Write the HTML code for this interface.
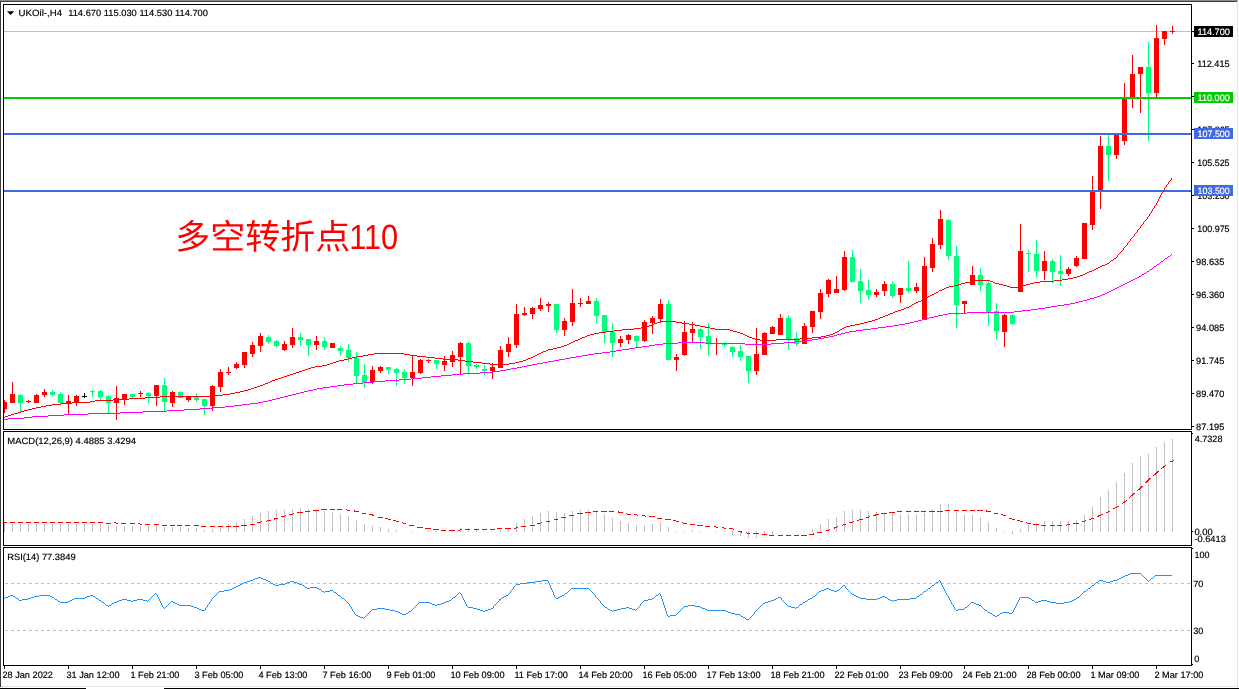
<!DOCTYPE html>
<html><head><meta charset="utf-8"><title>UKOil H4</title>
<style>html,body{margin:0;padding:0;background:#fff;width:1239px;height:689px;overflow:hidden}svg{display:block;will-change:transform}text{white-space:pre;text-rendering:geometricPrecision}</style>
</head><body>
<svg width="1239" height="689" viewBox="0 0 1239 689" font-family="Liberation Sans, sans-serif">
<rect width="1239" height="689" fill="#fff"/>
<g shape-rendering="crispEdges">
<rect x="0" y="0" width="1238" height="1" fill="#8c8c8c"/>
<rect x="0" y="1" width="1237" height="1" fill="#404040"/>
<rect x="0" y="1" width="1" height="686" fill="#3c3c3c"/>
<rect x="1237" y="2" width="1" height="685" fill="#e4e4e4"/>
<rect x="1" y="686" width="1237" height="1" fill="#e4e4e4"/>
<rect x="0" y="688" width="86" height="1" fill="#000"/>
<rect x="164" y="688" width="1075" height="1" fill="#000"/>
<rect x="3" y="4" width="1189" height="1" fill="#000"/>
<rect x="3" y="4" width="1" height="426" fill="#000"/>
<rect x="3" y="429" width="1189" height="1" fill="#000"/>
<rect x="1191" y="4" width="1" height="426" fill="#000"/>
<rect x="3" y="431" width="1189" height="1" fill="#000"/>
<rect x="3" y="431" width="1" height="115" fill="#000"/>
<rect x="3" y="545" width="1189" height="1" fill="#000"/>
<rect x="1191" y="431" width="1" height="115" fill="#000"/>
<rect x="3" y="547" width="1189" height="1" fill="#000"/>
<rect x="3" y="547" width="1" height="119" fill="#000"/>
<rect x="3" y="665" width="1189" height="1" fill="#000"/>
<rect x="1191" y="547" width="1" height="119" fill="#000"/>
<rect x="4" y="31" width="1187" height="1" fill="#c0c0c0"/>
<rect x="4" y="666" width="1" height="3" fill="#000"/>
<rect x="68" y="666" width="1" height="3" fill="#000"/>
<rect x="132" y="666" width="1" height="3" fill="#000"/>
<rect x="196" y="666" width="1" height="3" fill="#000"/>
<rect x="260" y="666" width="1" height="3" fill="#000"/>
<rect x="324" y="666" width="1" height="3" fill="#000"/>
<rect x="388" y="666" width="1" height="3" fill="#000"/>
<rect x="452" y="666" width="1" height="3" fill="#000"/>
<rect x="516" y="666" width="1" height="3" fill="#000"/>
<rect x="580" y="666" width="1" height="3" fill="#000"/>
<rect x="644" y="666" width="1" height="3" fill="#000"/>
<rect x="708" y="666" width="1" height="3" fill="#000"/>
<rect x="772" y="666" width="1" height="3" fill="#000"/>
<rect x="836" y="666" width="1" height="3" fill="#000"/>
<rect x="900" y="666" width="1" height="3" fill="#000"/>
<rect x="964" y="666" width="1" height="3" fill="#000"/>
<rect x="1028" y="666" width="1" height="3" fill="#000"/>
<rect x="1092" y="666" width="1" height="3" fill="#000"/>
<rect x="1156" y="666" width="1" height="3" fill="#000"/>
<rect x="1192" y="63" width="2" height="1" fill="#000"/>
<rect x="1192" y="96" width="2" height="1" fill="#000"/>
<rect x="1192" y="129" width="2" height="1" fill="#000"/>
<rect x="1192" y="162" width="2" height="1" fill="#000"/>
<rect x="1192" y="195" width="2" height="1" fill="#000"/>
<rect x="1192" y="228" width="2" height="1" fill="#000"/>
<rect x="1192" y="261" width="2" height="1" fill="#000"/>
<rect x="1192" y="294" width="2" height="1" fill="#000"/>
<rect x="1192" y="327" width="2" height="1" fill="#000"/>
<rect x="1192" y="360" width="2" height="1" fill="#000"/>
<rect x="1192" y="393" width="2" height="1" fill="#000"/>
<rect x="1192" y="426" width="2" height="1" fill="#000"/>
<rect x="1192" y="433" width="1" height="1" fill="#000"/>
<rect x="1192" y="531" width="1" height="1" fill="#000"/>
<rect x="1192" y="548" width="1" height="1" fill="#000"/>
<rect x="1192" y="664" width="1" height="1" fill="#000"/>
</g>
<g shape-rendering="crispEdges" stroke="#c0c0c0" stroke-width="1" stroke-dasharray="3 3">
<line x1="5" y1="583.5" x2="1191" y2="583.5"/><line x1="5" y1="630.5" x2="1191" y2="630.5"/>
</g>
<g shape-rendering="crispEdges">
<rect x="4" y="400" width="1" height="13" fill="#ff0000"/>
<rect x="4" y="402" width="3" height="7" fill="#ff0000"/>
<rect x="12" y="382" width="1" height="21" fill="#ff0000"/>
<rect x="10" y="394" width="5" height="9" fill="#ff0000"/>
<rect x="20" y="394" width="1" height="18" fill="#00ff7f"/>
<rect x="18" y="395" width="5" height="8" fill="#00ff7f"/>
<rect x="28" y="400" width="1" height="3" fill="#ff0000"/>
<rect x="26" y="401" width="5" height="1" fill="#ff0000"/>
<rect x="36" y="394" width="1" height="9" fill="#ff0000"/>
<rect x="34" y="395" width="5" height="8" fill="#ff0000"/>
<rect x="44" y="389" width="1" height="8" fill="#ff0000"/>
<rect x="42" y="392" width="5" height="3" fill="#ff0000"/>
<rect x="52" y="390" width="1" height="6" fill="#00ff7f"/>
<rect x="50" y="392" width="5" height="3" fill="#00ff7f"/>
<rect x="60" y="392" width="1" height="12" fill="#00ff7f"/>
<rect x="58" y="394" width="5" height="9" fill="#00ff7f"/>
<rect x="68" y="395" width="1" height="19" fill="#ff0000"/>
<rect x="66" y="401" width="5" height="3" fill="#ff0000"/>
<rect x="76" y="395" width="1" height="11" fill="#ff0000"/>
<rect x="74" y="396" width="5" height="7" fill="#ff0000"/>
<rect x="84" y="393" width="1" height="5" fill="#000000"/>
<rect x="82" y="396" width="5" height="1" fill="#000000"/>
<rect x="92" y="390" width="1" height="7" fill="#00ff7f"/>
<rect x="90" y="391" width="5" height="1" fill="#00ff7f"/>
<rect x="100" y="390" width="1" height="10" fill="#00ff7f"/>
<rect x="98" y="391" width="5" height="6" fill="#00ff7f"/>
<rect x="108" y="395" width="1" height="18" fill="#00ff7f"/>
<rect x="106" y="396" width="5" height="7" fill="#00ff7f"/>
<rect x="116" y="386" width="1" height="34" fill="#ff0000"/>
<rect x="114" y="398" width="5" height="5" fill="#ff0000"/>
<rect x="124" y="394" width="1" height="11" fill="#ff0000"/>
<rect x="122" y="394" width="5" height="5" fill="#ff0000"/>
<rect x="132" y="394" width="1" height="5" fill="#00ff7f"/>
<rect x="130" y="394" width="5" height="3" fill="#00ff7f"/>
<rect x="140" y="391" width="1" height="6" fill="#ff0000"/>
<rect x="138" y="393" width="5" height="1" fill="#ff0000"/>
<rect x="148" y="392" width="1" height="11" fill="#00ff7f"/>
<rect x="146" y="393" width="5" height="3" fill="#00ff7f"/>
<rect x="156" y="385" width="1" height="21" fill="#ff0000"/>
<rect x="154" y="385" width="5" height="11" fill="#ff0000"/>
<rect x="164" y="378" width="1" height="33" fill="#00ff7f"/>
<rect x="162" y="385" width="5" height="17" fill="#00ff7f"/>
<rect x="172" y="391" width="1" height="16" fill="#ff0000"/>
<rect x="170" y="392" width="5" height="11" fill="#ff0000"/>
<rect x="180" y="391" width="1" height="7" fill="#00ff7f"/>
<rect x="178" y="392" width="5" height="6" fill="#00ff7f"/>
<rect x="188" y="397" width="1" height="5" fill="#ff0000"/>
<rect x="186" y="397" width="5" height="3" fill="#ff0000"/>
<rect x="196" y="393" width="1" height="9" fill="#00ff7f"/>
<rect x="194" y="397" width="5" height="3" fill="#00ff7f"/>
<rect x="204" y="399" width="1" height="16" fill="#00ff7f"/>
<rect x="202" y="399" width="5" height="7" fill="#00ff7f"/>
<rect x="212" y="385" width="1" height="26" fill="#ff0000"/>
<rect x="210" y="386" width="5" height="20" fill="#ff0000"/>
<rect x="220" y="369" width="1" height="23" fill="#ff0000"/>
<rect x="218" y="372" width="5" height="15" fill="#ff0000"/>
<rect x="228" y="367" width="1" height="8" fill="#ff0000"/>
<rect x="226" y="372" width="5" height="1" fill="#ff0000"/>
<rect x="236" y="362" width="1" height="7" fill="#ff0000"/>
<rect x="234" y="364" width="5" height="4" fill="#ff0000"/>
<rect x="244" y="352" width="1" height="16" fill="#ff0000"/>
<rect x="242" y="352" width="5" height="13" fill="#ff0000"/>
<rect x="252" y="342" width="1" height="15" fill="#ff0000"/>
<rect x="250" y="345" width="5" height="9" fill="#ff0000"/>
<rect x="260" y="333" width="1" height="19" fill="#ff0000"/>
<rect x="258" y="336" width="5" height="10" fill="#ff0000"/>
<rect x="268" y="335" width="1" height="9" fill="#00ff7f"/>
<rect x="266" y="337" width="5" height="5" fill="#00ff7f"/>
<rect x="276" y="340" width="1" height="7" fill="#00ff7f"/>
<rect x="274" y="341" width="5" height="5" fill="#00ff7f"/>
<rect x="284" y="341" width="1" height="10" fill="#ff0000"/>
<rect x="282" y="344" width="5" height="6" fill="#ff0000"/>
<rect x="292" y="328" width="1" height="20" fill="#ff0000"/>
<rect x="290" y="337" width="5" height="8" fill="#ff0000"/>
<rect x="300" y="333" width="1" height="13" fill="#00ff7f"/>
<rect x="298" y="337" width="5" height="3" fill="#00ff7f"/>
<rect x="308" y="339" width="1" height="17" fill="#00ff7f"/>
<rect x="306" y="339" width="5" height="6" fill="#00ff7f"/>
<rect x="316" y="336" width="1" height="14" fill="#ff0000"/>
<rect x="314" y="341" width="5" height="4" fill="#ff0000"/>
<rect x="324" y="337" width="1" height="13" fill="#00ff7f"/>
<rect x="322" y="341" width="5" height="6" fill="#00ff7f"/>
<rect x="332" y="343" width="1" height="5" fill="#ff0000"/>
<rect x="330" y="343" width="5" height="5" fill="#ff0000"/>
<rect x="340" y="346" width="1" height="10" fill="#00ff7f"/>
<rect x="338" y="348" width="5" height="3" fill="#00ff7f"/>
<rect x="348" y="344" width="1" height="18" fill="#00ff7f"/>
<rect x="346" y="350" width="5" height="8" fill="#00ff7f"/>
<rect x="356" y="352" width="1" height="31" fill="#00ff7f"/>
<rect x="354" y="358" width="5" height="18" fill="#00ff7f"/>
<rect x="364" y="364" width="1" height="24" fill="#00ff7f"/>
<rect x="362" y="375" width="5" height="8" fill="#00ff7f"/>
<rect x="372" y="366" width="1" height="18" fill="#ff0000"/>
<rect x="370" y="370" width="5" height="12" fill="#ff0000"/>
<rect x="380" y="366" width="1" height="7" fill="#ff0000"/>
<rect x="378" y="367" width="5" height="4" fill="#ff0000"/>
<rect x="388" y="367" width="1" height="7" fill="#00ff7f"/>
<rect x="386" y="367" width="5" height="3" fill="#00ff7f"/>
<rect x="396" y="368" width="1" height="18" fill="#00ff7f"/>
<rect x="394" y="369" width="5" height="4" fill="#00ff7f"/>
<rect x="404" y="369" width="1" height="15" fill="#00ff7f"/>
<rect x="402" y="372" width="5" height="6" fill="#00ff7f"/>
<rect x="412" y="355" width="1" height="31" fill="#ff0000"/>
<rect x="410" y="372" width="5" height="6" fill="#ff0000"/>
<rect x="420" y="359" width="1" height="15" fill="#ff0000"/>
<rect x="418" y="360" width="5" height="13" fill="#ff0000"/>
<rect x="428" y="359" width="1" height="4" fill="#ff0000"/>
<rect x="426" y="360" width="5" height="1" fill="#ff0000"/>
<rect x="436" y="360" width="1" height="9" fill="#00ff7f"/>
<rect x="434" y="360" width="5" height="4" fill="#00ff7f"/>
<rect x="444" y="356" width="1" height="15" fill="#ff0000"/>
<rect x="442" y="361" width="5" height="4" fill="#ff0000"/>
<rect x="452" y="351" width="1" height="16" fill="#ff0000"/>
<rect x="450" y="355" width="5" height="7" fill="#ff0000"/>
<rect x="460" y="342" width="1" height="32" fill="#ff0000"/>
<rect x="458" y="343" width="5" height="14" fill="#ff0000"/>
<rect x="468" y="342" width="1" height="31" fill="#00ff7f"/>
<rect x="466" y="343" width="5" height="23" fill="#00ff7f"/>
<rect x="476" y="364" width="1" height="5" fill="#00ff7f"/>
<rect x="474" y="365" width="5" height="2" fill="#00ff7f"/>
<rect x="484" y="365" width="1" height="10" fill="#00ff7f"/>
<rect x="482" y="369" width="5" height="2" fill="#00ff7f"/>
<rect x="492" y="363" width="1" height="16" fill="#ff0000"/>
<rect x="490" y="367" width="5" height="4" fill="#ff0000"/>
<rect x="500" y="346" width="1" height="22" fill="#ff0000"/>
<rect x="498" y="350" width="5" height="18" fill="#ff0000"/>
<rect x="508" y="337" width="1" height="20" fill="#ff0000"/>
<rect x="506" y="344" width="5" height="8" fill="#ff0000"/>
<rect x="516" y="304" width="1" height="44" fill="#ff0000"/>
<rect x="514" y="314" width="5" height="31" fill="#ff0000"/>
<rect x="524" y="307" width="1" height="9" fill="#ff0000"/>
<rect x="522" y="313" width="5" height="2" fill="#ff0000"/>
<rect x="532" y="307" width="1" height="12" fill="#ff0000"/>
<rect x="530" y="308" width="5" height="6" fill="#ff0000"/>
<rect x="540" y="298" width="1" height="13" fill="#ff0000"/>
<rect x="538" y="305" width="5" height="4" fill="#ff0000"/>
<rect x="548" y="302" width="1" height="10" fill="#ff0000"/>
<rect x="546" y="304" width="5" height="2" fill="#ff0000"/>
<rect x="556" y="304" width="1" height="29" fill="#00ff7f"/>
<rect x="554" y="304" width="5" height="26" fill="#00ff7f"/>
<rect x="564" y="318" width="1" height="18" fill="#ff0000"/>
<rect x="562" y="321" width="5" height="9" fill="#ff0000"/>
<rect x="572" y="289" width="1" height="37" fill="#ff0000"/>
<rect x="570" y="303" width="5" height="19" fill="#ff0000"/>
<rect x="580" y="298" width="1" height="9" fill="#ff0000"/>
<rect x="578" y="303" width="5" height="1" fill="#ff0000"/>
<rect x="588" y="296" width="1" height="8" fill="#ff0000"/>
<rect x="586" y="301" width="5" height="3" fill="#ff0000"/>
<rect x="596" y="298" width="1" height="25" fill="#00ff7f"/>
<rect x="594" y="301" width="5" height="15" fill="#00ff7f"/>
<rect x="604" y="315" width="1" height="28" fill="#00ff7f"/>
<rect x="602" y="315" width="5" height="17" fill="#00ff7f"/>
<rect x="612" y="323" width="1" height="34" fill="#00ff7f"/>
<rect x="610" y="332" width="5" height="11" fill="#00ff7f"/>
<rect x="620" y="336" width="1" height="11" fill="#ff0000"/>
<rect x="618" y="339" width="5" height="4" fill="#ff0000"/>
<rect x="628" y="334" width="1" height="10" fill="#ff0000"/>
<rect x="626" y="335" width="5" height="5" fill="#ff0000"/>
<rect x="636" y="335" width="1" height="12" fill="#00ff7f"/>
<rect x="634" y="336" width="5" height="5" fill="#00ff7f"/>
<rect x="644" y="320" width="1" height="22" fill="#ff0000"/>
<rect x="642" y="322" width="5" height="19" fill="#ff0000"/>
<rect x="652" y="316" width="1" height="18" fill="#ff0000"/>
<rect x="650" y="318" width="5" height="5" fill="#ff0000"/>
<rect x="660" y="299" width="1" height="23" fill="#ff0000"/>
<rect x="658" y="304" width="5" height="15" fill="#ff0000"/>
<rect x="668" y="300" width="1" height="60" fill="#00ff7f"/>
<rect x="666" y="304" width="5" height="56" fill="#00ff7f"/>
<rect x="676" y="354" width="1" height="17" fill="#ff0000"/>
<rect x="674" y="357" width="5" height="3" fill="#ff0000"/>
<rect x="684" y="321" width="1" height="35" fill="#ff0000"/>
<rect x="682" y="332" width="5" height="23" fill="#ff0000"/>
<rect x="692" y="322" width="1" height="20" fill="#ff0000"/>
<rect x="690" y="329" width="5" height="4" fill="#ff0000"/>
<rect x="700" y="328" width="1" height="21" fill="#00ff7f"/>
<rect x="698" y="329" width="5" height="8" fill="#00ff7f"/>
<rect x="708" y="323" width="1" height="33" fill="#00ff7f"/>
<rect x="706" y="336" width="5" height="7" fill="#00ff7f"/>
<rect x="716" y="338" width="1" height="17" fill="#ff0000"/>
<rect x="714" y="343" width="5" height="1" fill="#ff0000"/>
<rect x="724" y="342" width="1" height="5" fill="#00ff7f"/>
<rect x="722" y="343" width="5" height="2" fill="#00ff7f"/>
<rect x="732" y="346" width="1" height="11" fill="#00ff7f"/>
<rect x="730" y="347" width="5" height="5" fill="#00ff7f"/>
<rect x="740" y="345" width="1" height="16" fill="#00ff7f"/>
<rect x="738" y="351" width="5" height="6" fill="#00ff7f"/>
<rect x="748" y="356" width="1" height="27" fill="#00ff7f"/>
<rect x="746" y="356" width="5" height="15" fill="#00ff7f"/>
<rect x="756" y="328" width="1" height="47" fill="#ff0000"/>
<rect x="754" y="354" width="5" height="17" fill="#ff0000"/>
<rect x="764" y="332" width="1" height="23" fill="#ff0000"/>
<rect x="762" y="333" width="5" height="22" fill="#ff0000"/>
<rect x="772" y="326" width="1" height="8" fill="#ff0000"/>
<rect x="770" y="327" width="5" height="7" fill="#ff0000"/>
<rect x="780" y="314" width="1" height="21" fill="#ff0000"/>
<rect x="778" y="318" width="5" height="17" fill="#ff0000"/>
<rect x="788" y="315" width="1" height="35" fill="#00ff7f"/>
<rect x="786" y="318" width="5" height="22" fill="#00ff7f"/>
<rect x="796" y="332" width="1" height="14" fill="#00ff7f"/>
<rect x="794" y="338" width="5" height="6" fill="#00ff7f"/>
<rect x="804" y="323" width="1" height="21" fill="#ff0000"/>
<rect x="802" y="326" width="5" height="18" fill="#ff0000"/>
<rect x="812" y="311" width="1" height="22" fill="#ff0000"/>
<rect x="810" y="311" width="5" height="16" fill="#ff0000"/>
<rect x="820" y="289" width="1" height="30" fill="#ff0000"/>
<rect x="818" y="293" width="5" height="19" fill="#ff0000"/>
<rect x="828" y="279" width="1" height="18" fill="#ff0000"/>
<rect x="826" y="280" width="5" height="14" fill="#ff0000"/>
<rect x="836" y="276" width="1" height="17" fill="#ff0000"/>
<rect x="834" y="289" width="5" height="4" fill="#ff0000"/>
<rect x="844" y="251" width="1" height="40" fill="#ff0000"/>
<rect x="842" y="257" width="5" height="33" fill="#ff0000"/>
<rect x="852" y="250" width="1" height="32" fill="#00ff7f"/>
<rect x="850" y="257" width="5" height="25" fill="#00ff7f"/>
<rect x="860" y="269" width="1" height="34" fill="#00ff7f"/>
<rect x="858" y="281" width="5" height="10" fill="#00ff7f"/>
<rect x="868" y="280" width="1" height="20" fill="#00ff7f"/>
<rect x="866" y="290" width="5" height="5" fill="#00ff7f"/>
<rect x="876" y="289" width="1" height="8" fill="#ff0000"/>
<rect x="874" y="292" width="5" height="3" fill="#ff0000"/>
<rect x="884" y="281" width="1" height="15" fill="#ff0000"/>
<rect x="882" y="284" width="5" height="7" fill="#ff0000"/>
<rect x="892" y="281" width="1" height="17" fill="#00ff7f"/>
<rect x="890" y="284" width="5" height="12" fill="#00ff7f"/>
<rect x="900" y="288" width="1" height="15" fill="#ff0000"/>
<rect x="898" y="288" width="5" height="7" fill="#ff0000"/>
<rect x="908" y="261" width="1" height="32" fill="#00ff7f"/>
<rect x="906" y="288" width="5" height="3" fill="#00ff7f"/>
<rect x="916" y="283" width="1" height="10" fill="#ff0000"/>
<rect x="914" y="287" width="5" height="4" fill="#ff0000"/>
<rect x="924" y="257" width="1" height="63" fill="#ff0000"/>
<rect x="922" y="266" width="5" height="54" fill="#ff0000"/>
<rect x="932" y="238" width="1" height="34" fill="#ff0000"/>
<rect x="930" y="244" width="5" height="24" fill="#ff0000"/>
<rect x="940" y="210" width="1" height="39" fill="#ff0000"/>
<rect x="938" y="219" width="5" height="26" fill="#ff0000"/>
<rect x="948" y="219" width="1" height="41" fill="#00ff7f"/>
<rect x="946" y="220" width="5" height="36" fill="#00ff7f"/>
<rect x="956" y="246" width="1" height="82" fill="#00ff7f"/>
<rect x="954" y="256" width="5" height="49" fill="#00ff7f"/>
<rect x="964" y="301" width="1" height="12" fill="#ff0000"/>
<rect x="962" y="301" width="5" height="3" fill="#ff0000"/>
<rect x="972" y="266" width="1" height="19" fill="#ff0000"/>
<rect x="970" y="275" width="5" height="10" fill="#ff0000"/>
<rect x="980" y="268" width="1" height="23" fill="#00ff7f"/>
<rect x="978" y="275" width="5" height="10" fill="#00ff7f"/>
<rect x="988" y="281" width="1" height="45" fill="#00ff7f"/>
<rect x="986" y="283" width="5" height="29" fill="#00ff7f"/>
<rect x="996" y="303" width="1" height="37" fill="#00ff7f"/>
<rect x="994" y="311" width="5" height="20" fill="#00ff7f"/>
<rect x="1004" y="314" width="1" height="33" fill="#ff0000"/>
<rect x="1002" y="315" width="5" height="17" fill="#ff0000"/>
<rect x="1012" y="314" width="1" height="11" fill="#00ff7f"/>
<rect x="1010" y="315" width="5" height="9" fill="#00ff7f"/>
<rect x="1020" y="224" width="1" height="68" fill="#ff0000"/>
<rect x="1018" y="251" width="5" height="41" fill="#ff0000"/>
<rect x="1028" y="250" width="1" height="22" fill="#00ff7f"/>
<rect x="1026" y="253" width="5" height="1" fill="#00ff7f"/>
<rect x="1036" y="240" width="1" height="37" fill="#00ff7f"/>
<rect x="1034" y="254" width="5" height="17" fill="#00ff7f"/>
<rect x="1044" y="251" width="1" height="29" fill="#ff0000"/>
<rect x="1042" y="261" width="5" height="10" fill="#ff0000"/>
<rect x="1052" y="259" width="1" height="24" fill="#00ff7f"/>
<rect x="1050" y="261" width="5" height="11" fill="#00ff7f"/>
<rect x="1060" y="255" width="1" height="31" fill="#00ff7f"/>
<rect x="1058" y="271" width="5" height="3" fill="#00ff7f"/>
<rect x="1068" y="267" width="1" height="9" fill="#ff0000"/>
<rect x="1066" y="269" width="5" height="5" fill="#ff0000"/>
<rect x="1076" y="256" width="1" height="11" fill="#ff0000"/>
<rect x="1074" y="258" width="5" height="8" fill="#ff0000"/>
<rect x="1084" y="223" width="1" height="36" fill="#ff0000"/>
<rect x="1082" y="223" width="5" height="36" fill="#ff0000"/>
<rect x="1092" y="176" width="1" height="54" fill="#ff0000"/>
<rect x="1090" y="191" width="5" height="34" fill="#ff0000"/>
<rect x="1100" y="136" width="1" height="73" fill="#ff0000"/>
<rect x="1098" y="146" width="5" height="45" fill="#ff0000"/>
<rect x="1108" y="134" width="1" height="47" fill="#00ff7f"/>
<rect x="1106" y="146" width="5" height="9" fill="#00ff7f"/>
<rect x="1116" y="134" width="1" height="25" fill="#ff0000"/>
<rect x="1114" y="134" width="5" height="21" fill="#ff0000"/>
<rect x="1124" y="83" width="1" height="62" fill="#ff0000"/>
<rect x="1122" y="98" width="5" height="43" fill="#ff0000"/>
<rect x="1132" y="55" width="1" height="53" fill="#ff0000"/>
<rect x="1130" y="74" width="5" height="24" fill="#ff0000"/>
<rect x="1140" y="67" width="1" height="46" fill="#ff0000"/>
<rect x="1138" y="67" width="5" height="7" fill="#ff0000"/>
<rect x="1148" y="42" width="1" height="99" fill="#00ff7f"/>
<rect x="1146" y="67" width="5" height="26" fill="#00ff7f"/>
<rect x="1156" y="25" width="1" height="72" fill="#ff0000"/>
<rect x="1154" y="38" width="5" height="55" fill="#ff0000"/>
<rect x="1164" y="31" width="1" height="14" fill="#ff0000"/>
<rect x="1162" y="31" width="5" height="8" fill="#ff0000"/>
<rect x="1172" y="26" width="1" height="8" fill="#ff0000"/>
<rect x="1170" y="31" width="5" height="1" fill="#ff0000"/>
</g>
<g shape-rendering="crispEdges">
<rect x="4" y="97" width="1187" height="2" fill="#00cc00"/>
<rect x="4" y="133" width="1187" height="2" fill="#4169e1"/>
<rect x="4" y="190" width="1187" height="2" fill="#4169e1"/>
</g>
<path d="M4 419.5h4M8 418.5h16M24 417.5h8M32 416.5h16M48 415.5h16M64 414.5h24M88 413.5h32M120 412.5h23M143 411.5h24M167 410.5h17M184 409.5h16M200 408.5h13M213 407.5h12M225 406.5h9M234 405.5h8M242 404.5h8M250 403.5h8M258 402.5h5M263 401.5h5M268 400.5h4M272 399.5h4M276 398.5h4M280 397.5h4M284 396.5h4M288 395.5h4M292 394.5h4M296 393.5h4M300 392.5h4M304 391.5h4M308 390.5h5M313 389.5h4M317 388.5h6M323 387.5h7M330 386.5h7M337 385.5h7M344 384.5h9M353 383.5h10M363 382.5h11M374 381.5h11M385 380.5h14M399 379.5h12M411 378.5h11M422 377.5h9M431 376.5h10M441 375.5h11M452 374.5h11M463 373.5h17M480 372.5h13M493 371.5h7M500 370.5h6M506 369.5h5M511 368.5h6M517 367.5h5M522 366.5h5M527 365.5h5M532 364.5h5M537 363.5h6M543 362.5h5M548 361.5h6M554 360.5h5M559 359.5h6M565 358.5h5M570 357.5h6M576 356.5h6M582 355.5h6M588 354.5h6M594 353.5h8M602 352.5h8M610 351.5h6M616 350.5h6M622 349.5h7M629 348.5h6M635 347.5h7M642 346.5h7M649 345.5h6M655 344.5h8M663 343.5h15M678 342.5h27M705 343.5h40M745 344.5h26M771 343.5h13M784 342.5h11M795 341.5h10M805 340.5h7M812 339.5h6M818 338.5h6M824 337.5h5M829 336.5h5M834 335.5h3M837 334.5h4M841 333.5h4M845 332.5h4M849 331.5h7M856 330.5h7M863 329.5h8M871 328.5h7M878 327.5h8M886 326.5h7M893 325.5h6M899 324.5h6M905 323.5h5M910 322.5h4M914 321.5h4M918 320.5h4M922 319.5h3M925 318.5h4M929 317.5h5M934 316.5h4M938 315.5h5M943 314.5h5M948 313.5h19M967 312.5h47M1014 311.5h8M1022 310.5h9M1031 309.5h7M1038 308.5h7M1045 307.5h6M1051 306.5h6M1057 305.5h7M1064 304.5h6M1070 303.5h5M1075 302.5h4M1079 301.5h4M1083 300.5h4M1087 299.5h3M1090 298.5h4M1094 297.5h3M1097 296.5h3M1100 295.5h2M1102 294.5h3M1105 293.5h2M1107 292.5h2M1109 291.5h2M1111 290.5h2M1113 289.5h2M1115 288.5h2M1117 287.5h2M1119 286.5h2M1121 285.5h2M1123 284.5h2M1125 283.5h2M1127 282.5h2M1129 281.5h2M1131 280.5h2M1133 279.5h2M1135 278.5h2M1137 277.5h2M1139 276.5h2M1141 275.5h1M1142 274.5h2M1144 273.5h2M1146 272.5h1M1147 271.5h2M1149 270.5h1M1150 269.5h2M1152 268.5h1M1153 267.5h1M1154 266.5h2M1156 265.5h1M1157 264.5h2M1159 263.5h1M1160 262.5h1M1161 261.5h2M1163 260.5h1M1164 259.5h1M1165 258.5h2M1167 257.5h1M1168 256.5h2M1170 255.5h1M1171 254.5h1" stroke="#ff00ff" stroke-width="1" fill="none" shape-rendering="crispEdges"/>
<path d="M4 417.5h1M5 416.5h3M8 415.5h3M11 414.5h3M14 413.5h4M18 412.5h3M21 411.5h3M24 410.5h4M28 409.5h4M32 408.5h4M36 407.5h5M41 406.5h5M46 405.5h6M52 404.5h9M61 403.5h11M72 402.5h18M90 401.5h5M95 400.5h18M113 399.5h16M129 398.5h16M145 397.5h15M160 396.5h54M214 395.5h9M223 394.5h7M230 393.5h5M235 392.5h5M240 391.5h4M244 390.5h4M248 389.5h3M251 388.5h3M254 387.5h3M257 386.5h3M260 385.5h3M263 384.5h2M265 383.5h3M268 382.5h2M270 381.5h2M272 380.5h3M275 379.5h3M278 378.5h3M281 377.5h3M284 376.5h3M287 375.5h3M290 374.5h3M293 373.5h3M296 372.5h3M299 371.5h3M302 370.5h3M305 369.5h3M308 368.5h3M311 367.5h4M315 366.5h7M322 365.5h5M327 364.5h3M330 363.5h3M333 362.5h3M336 361.5h3M339 360.5h5M344 359.5h4M348 358.5h4M352 357.5h5M357 356.5h6M363 355.5h5M368 354.5h6M374 353.5h30M404 354.5h6M410 355.5h7M417 356.5h9M426 357.5h9M435 358.5h8M443 359.5h15M458 360.5h7M465 361.5h8M473 362.5h9M482 363.5h8M490 364.5h19M509 363.5h6M515 362.5h4M519 361.5h4M523 360.5h3M526 359.5h2M528 358.5h3M531 357.5h2M533 356.5h2M535 355.5h2M537 354.5h2M539 353.5h2M541 352.5h2M543 351.5h3M546 350.5h2M548 349.5h5M553 348.5h4M557 347.5h4M561 346.5h3M564 345.5h3M567 344.5h2M569 343.5h2M571 342.5h2M573 341.5h2M575 340.5h3M578 339.5h2M580 338.5h2M582 337.5h3M585 336.5h2M587 335.5h3M590 334.5h4M594 333.5h5M599 332.5h7M606 331.5h8M614 330.5h8M622 329.5h12M634 328.5h7M641 327.5h4M645 326.5h4M649 325.5h3M652 324.5h2M654 323.5h3M657 322.5h4M661 321.5h15M676 322.5h6M682 323.5h7M689 324.5h6M695 325.5h5M700 326.5h5M705 327.5h5M710 328.5h5M715 329.5h15M730 330.5h3M733 331.5h4M737 332.5h3M740 333.5h3M743 334.5h2M745 335.5h2M747 336.5h2M749 337.5h3M752 338.5h3M755 339.5h5M760 340.5h16M776 339.5h24M800 338.5h12M812 337.5h9M821 336.5h5M826 335.5h4M830 334.5h3M833 333.5h2M835 332.5h2M837 331.5h2M839 330.5h1M840 329.5h2M842 328.5h2M844 327.5h2M846 326.5h4M850 325.5h5M855 324.5h5M860 323.5h4M864 322.5h4M868 321.5h4M872 320.5h3M875 319.5h3M878 318.5h2M880 317.5h3M883 316.5h2M885 315.5h3M888 314.5h2M890 313.5h3M893 312.5h2M895 311.5h3M898 310.5h3M901 309.5h3M904 308.5h2M906 307.5h3M909 306.5h2M911 305.5h1M912 304.5h2M914 303.5h2M916 302.5h2M918 301.5h3M921 300.5h2M923 299.5h2M925 298.5h2M927 297.5h1M928 296.5h2M930 295.5h2M932 294.5h2M934 293.5h2M936 292.5h2M938 291.5h1M939 290.5h3M942 289.5h2M944 288.5h2M946 287.5h3M949 286.5h5M954 285.5h4M958 284.5h3M961 283.5h4M965 282.5h5M970 281.5h4M974 280.5h16M990 281.5h3M993 282.5h2M995 283.5h4M999 284.5h4M1003 285.5h4M1007 286.5h3M1010 287.5h8M1018 286.5h4M1022 285.5h4M1026 284.5h4M1030 283.5h4M1034 282.5h6M1040 281.5h14M1054 280.5h8M1062 279.5h6M1068 278.5h5M1073 277.5h4M1077 276.5h3M1080 275.5h3M1083 274.5h2M1085 273.5h2M1087 272.5h2M1089 271.5h3M1092 270.5h2M1094 269.5h2M1096 268.5h2M1098 267.5h2M1100 266.5h2M1102 265.5h3M1105 264.5h2M1107 263.5h2M1109 262.5h1M1110 261.5h1M1111 260.5h2M1113 259.5h1M1114 258.5h2M1116 257.5h1M1117.5 255v2M1118 254.5h1M1119 253.5h1M1120 252.5h1M1121 251.5h1M1122 250.5h1M1123.5 248v2M1124 247.5h1M1125 246.5h1M1126 245.5h1M1127.5 243v2M1128 242.5h1M1129 241.5h1M1130.5 239v2M1131 238.5h1M1132 237.5h1M1133 236.5h1M1134.5 234v2M1135 233.5h1M1136 232.5h1M1137.5 230v2M1138 229.5h1M1139 228.5h1M1140.5 226v2M1141 225.5h1M1142 224.5h1M1143.5 222v2M1144 221.5h1M1145 220.5h1M1146 219.5h1M1147.5 217v2M1148 216.5h1M1149.5 214v2M1150 213.5h1M1151.5 211v2M1152.5 209v2M1153 208.5h1M1154.5 206v2M1155 205.5h1M1156.5 203v2M1157.5 201v2M1158.5 199v2M1159.5 197v2M1160.5 195v2M1161.5 193v2M1162 192.5h1M1163.5 190v2M1164.5 188v2M1165 187.5h1M1166.5 185v2M1167 184.5h1M1168.5 182v2M1169 181.5h1M1170 180.5h1M1171.5 178v2" stroke="#ff0000" stroke-width="1" fill="none" shape-rendering="crispEdges"/>
<g shape-rendering="crispEdges">
<rect x="4" y="523" width="1" height="9" fill="#c0c0c0"/>
<rect x="12" y="523" width="1" height="9" fill="#c0c0c0"/>
<rect x="20" y="523" width="1" height="9" fill="#c0c0c0"/>
<rect x="28" y="523" width="1" height="9" fill="#c0c0c0"/>
<rect x="36" y="523" width="1" height="9" fill="#c0c0c0"/>
<rect x="44" y="523" width="1" height="9" fill="#c0c0c0"/>
<rect x="52" y="523" width="1" height="9" fill="#c0c0c0"/>
<rect x="60" y="523" width="1" height="9" fill="#c0c0c0"/>
<rect x="68" y="523" width="1" height="9" fill="#c0c0c0"/>
<rect x="76" y="523" width="1" height="9" fill="#c0c0c0"/>
<rect x="84" y="523" width="1" height="9" fill="#c0c0c0"/>
<rect x="92" y="523" width="1" height="9" fill="#c0c0c0"/>
<rect x="100" y="523" width="1" height="9" fill="#c0c0c0"/>
<rect x="108" y="525" width="1" height="7" fill="#c0c0c0"/>
<rect x="116" y="526" width="1" height="6" fill="#c0c0c0"/>
<rect x="124" y="526" width="1" height="6" fill="#c0c0c0"/>
<rect x="132" y="526" width="1" height="6" fill="#c0c0c0"/>
<rect x="140" y="526" width="1" height="6" fill="#c0c0c0"/>
<rect x="148" y="526" width="1" height="6" fill="#c0c0c0"/>
<rect x="156" y="525" width="1" height="7" fill="#c0c0c0"/>
<rect x="164" y="527" width="1" height="5" fill="#c0c0c0"/>
<rect x="172" y="527" width="1" height="5" fill="#c0c0c0"/>
<rect x="180" y="527" width="1" height="5" fill="#c0c0c0"/>
<rect x="188" y="528" width="1" height="4" fill="#c0c0c0"/>
<rect x="196" y="528" width="1" height="4" fill="#c0c0c0"/>
<rect x="204" y="530" width="1" height="2" fill="#c0c0c0"/>
<rect x="212" y="529" width="1" height="3" fill="#c0c0c0"/>
<rect x="220" y="526" width="1" height="6" fill="#c0c0c0"/>
<rect x="228" y="524" width="1" height="8" fill="#c0c0c0"/>
<rect x="236" y="522" width="1" height="10" fill="#c0c0c0"/>
<rect x="244" y="519" width="1" height="13" fill="#c0c0c0"/>
<rect x="252" y="516" width="1" height="16" fill="#c0c0c0"/>
<rect x="260" y="513" width="1" height="19" fill="#c0c0c0"/>
<rect x="268" y="511" width="1" height="21" fill="#c0c0c0"/>
<rect x="276" y="510" width="1" height="22" fill="#c0c0c0"/>
<rect x="284" y="510" width="1" height="22" fill="#c0c0c0"/>
<rect x="292" y="509" width="1" height="23" fill="#c0c0c0"/>
<rect x="300" y="508" width="1" height="24" fill="#c0c0c0"/>
<rect x="308" y="509" width="1" height="23" fill="#c0c0c0"/>
<rect x="316" y="510" width="1" height="22" fill="#c0c0c0"/>
<rect x="324" y="511" width="1" height="21" fill="#c0c0c0"/>
<rect x="332" y="512" width="1" height="20" fill="#c0c0c0"/>
<rect x="340" y="514" width="1" height="18" fill="#c0c0c0"/>
<rect x="348" y="516" width="1" height="16" fill="#c0c0c0"/>
<rect x="356" y="520" width="1" height="12" fill="#c0c0c0"/>
<rect x="364" y="524" width="1" height="8" fill="#c0c0c0"/>
<rect x="372" y="526" width="1" height="6" fill="#c0c0c0"/>
<rect x="380" y="527" width="1" height="5" fill="#c0c0c0"/>
<rect x="388" y="529" width="1" height="3" fill="#c0c0c0"/>
<rect x="396" y="530" width="1" height="2" fill="#c0c0c0"/>
<rect x="412" y="531" width="1" height="1" fill="#c0c0c0"/>
<rect x="428" y="531" width="1" height="1" fill="#c0c0c0"/>
<rect x="436" y="531" width="1" height="1" fill="#c0c0c0"/>
<rect x="444" y="530" width="1" height="2" fill="#c0c0c0"/>
<rect x="452" y="529" width="1" height="3" fill="#c0c0c0"/>
<rect x="460" y="528" width="1" height="4" fill="#c0c0c0"/>
<rect x="468" y="528" width="1" height="4" fill="#c0c0c0"/>
<rect x="476" y="529" width="1" height="3" fill="#c0c0c0"/>
<rect x="484" y="531" width="1" height="1" fill="#c0c0c0"/>
<rect x="492" y="531" width="1" height="1" fill="#c0c0c0"/>
<rect x="500" y="530" width="1" height="2" fill="#c0c0c0"/>
<rect x="508" y="529" width="1" height="3" fill="#c0c0c0"/>
<rect x="516" y="523" width="1" height="9" fill="#c0c0c0"/>
<rect x="524" y="519" width="1" height="13" fill="#c0c0c0"/>
<rect x="532" y="516" width="1" height="16" fill="#c0c0c0"/>
<rect x="540" y="513" width="1" height="19" fill="#c0c0c0"/>
<rect x="548" y="511" width="1" height="21" fill="#c0c0c0"/>
<rect x="556" y="512" width="1" height="20" fill="#c0c0c0"/>
<rect x="564" y="513" width="1" height="19" fill="#c0c0c0"/>
<rect x="572" y="511" width="1" height="21" fill="#c0c0c0"/>
<rect x="580" y="510" width="1" height="22" fill="#c0c0c0"/>
<rect x="588" y="510" width="1" height="22" fill="#c0c0c0"/>
<rect x="596" y="511" width="1" height="21" fill="#c0c0c0"/>
<rect x="604" y="514" width="1" height="18" fill="#c0c0c0"/>
<rect x="612" y="518" width="1" height="14" fill="#c0c0c0"/>
<rect x="620" y="521" width="1" height="11" fill="#c0c0c0"/>
<rect x="628" y="523" width="1" height="9" fill="#c0c0c0"/>
<rect x="636" y="525" width="1" height="7" fill="#c0c0c0"/>
<rect x="644" y="525" width="1" height="7" fill="#c0c0c0"/>
<rect x="652" y="524" width="1" height="8" fill="#c0c0c0"/>
<rect x="660" y="522" width="1" height="10" fill="#c0c0c0"/>
<rect x="668" y="527" width="1" height="5" fill="#c0c0c0"/>
<rect x="676" y="531" width="1" height="1" fill="#c0c0c0"/>
<rect x="684" y="531" width="1" height="1" fill="#c0c0c0"/>
<rect x="692" y="530" width="1" height="2" fill="#c0c0c0"/>
<rect x="700" y="531" width="1" height="1" fill="#c0c0c0"/>
<rect x="716" y="531" width="1" height="1" fill="#c0c0c0"/>
<rect x="724" y="531" width="1" height="1" fill="#c0c0c0"/>
<rect x="732" y="531" width="1" height="4" fill="#c0c0c0"/>
<rect x="740" y="531" width="1" height="5" fill="#c0c0c0"/>
<rect x="748" y="531" width="1" height="7" fill="#c0c0c0"/>
<rect x="756" y="531" width="1" height="7" fill="#c0c0c0"/>
<rect x="764" y="531" width="1" height="5" fill="#c0c0c0"/>
<rect x="772" y="531" width="1" height="5" fill="#c0c0c0"/>
<rect x="780" y="531" width="1" height="1" fill="#c0c0c0"/>
<rect x="796" y="531" width="1" height="1" fill="#c0c0c0"/>
<rect x="804" y="531" width="1" height="1" fill="#c0c0c0"/>
<rect x="812" y="529" width="1" height="3" fill="#c0c0c0"/>
<rect x="820" y="524" width="1" height="8" fill="#c0c0c0"/>
<rect x="828" y="519" width="1" height="13" fill="#c0c0c0"/>
<rect x="836" y="517" width="1" height="15" fill="#c0c0c0"/>
<rect x="844" y="511" width="1" height="21" fill="#c0c0c0"/>
<rect x="852" y="510" width="1" height="22" fill="#c0c0c0"/>
<rect x="860" y="510" width="1" height="22" fill="#c0c0c0"/>
<rect x="868" y="511" width="1" height="21" fill="#c0c0c0"/>
<rect x="876" y="512" width="1" height="20" fill="#c0c0c0"/>
<rect x="884" y="513" width="1" height="19" fill="#c0c0c0"/>
<rect x="892" y="513" width="1" height="19" fill="#c0c0c0"/>
<rect x="900" y="514" width="1" height="18" fill="#c0c0c0"/>
<rect x="908" y="514" width="1" height="18" fill="#c0c0c0"/>
<rect x="916" y="515" width="1" height="17" fill="#c0c0c0"/>
<rect x="924" y="513" width="1" height="19" fill="#c0c0c0"/>
<rect x="932" y="509" width="1" height="23" fill="#c0c0c0"/>
<rect x="940" y="504" width="1" height="28" fill="#c0c0c0"/>
<rect x="948" y="504" width="1" height="28" fill="#c0c0c0"/>
<rect x="956" y="511" width="1" height="21" fill="#c0c0c0"/>
<rect x="964" y="515" width="1" height="17" fill="#c0c0c0"/>
<rect x="972" y="515" width="1" height="17" fill="#c0c0c0"/>
<rect x="980" y="517" width="1" height="15" fill="#c0c0c0"/>
<rect x="988" y="522" width="1" height="10" fill="#c0c0c0"/>
<rect x="996" y="528" width="1" height="4" fill="#c0c0c0"/>
<rect x="1004" y="531" width="1" height="1" fill="#c0c0c0"/>
<rect x="1012" y="531" width="1" height="3" fill="#c0c0c0"/>
<rect x="1020" y="529" width="1" height="3" fill="#c0c0c0"/>
<rect x="1028" y="525" width="1" height="7" fill="#c0c0c0"/>
<rect x="1036" y="523" width="1" height="9" fill="#c0c0c0"/>
<rect x="1044" y="521" width="1" height="11" fill="#c0c0c0"/>
<rect x="1052" y="521" width="1" height="11" fill="#c0c0c0"/>
<rect x="1060" y="521" width="1" height="11" fill="#c0c0c0"/>
<rect x="1068" y="521" width="1" height="11" fill="#c0c0c0"/>
<rect x="1076" y="520" width="1" height="12" fill="#c0c0c0"/>
<rect x="1084" y="515" width="1" height="17" fill="#c0c0c0"/>
<rect x="1092" y="507" width="1" height="25" fill="#c0c0c0"/>
<rect x="1100" y="497" width="1" height="35" fill="#c0c0c0"/>
<rect x="1108" y="490" width="1" height="42" fill="#c0c0c0"/>
<rect x="1116" y="482" width="1" height="50" fill="#c0c0c0"/>
<rect x="1124" y="473" width="1" height="59" fill="#c0c0c0"/>
<rect x="1132" y="463" width="1" height="69" fill="#c0c0c0"/>
<rect x="1140" y="456" width="1" height="76" fill="#c0c0c0"/>
<rect x="1148" y="454" width="1" height="78" fill="#c0c0c0"/>
<rect x="1156" y="447" width="1" height="85" fill="#c0c0c0"/>
<rect x="1164" y="442" width="1" height="90" fill="#c0c0c0"/>
<rect x="1172" y="439" width="1" height="93" fill="#c0c0c0"/>
</g>
<g stroke="#ff0000" stroke-width="1" fill="none" shape-rendering="crispEdges">
<line x1="4.0" y1="522.9" x2="6.5" y2="522.9"/>
<line x1="9.5" y1="522.9" x2="14.5" y2="522.9"/>
<line x1="17.5" y1="522.9" x2="22.5" y2="522.9"/>
<line x1="25.5" y1="522.9" x2="30.5" y2="522.9"/>
<line x1="33.5" y1="522.9" x2="38.5" y2="522.9"/>
<line x1="41.5" y1="522.9" x2="46.5" y2="522.9"/>
<line x1="49.5" y1="522.9" x2="54.5" y2="522.9"/>
<line x1="57.5" y1="522.9" x2="62.5" y2="522.9"/>
<line x1="65.5" y1="522.9" x2="70.5" y2="522.9"/>
<line x1="73.5" y1="522.9" x2="78.5" y2="522.9"/>
<line x1="81.5" y1="522.9" x2="86.5" y2="522.9"/>
<line x1="89.5" y1="522.9" x2="94.5" y2="522.9"/>
<line x1="97.5" y1="522.9" x2="102.5" y2="522.9"/>
<line x1="105.5" y1="523.0" x2="110.5" y2="523.0"/>
<line x1="113.5" y1="522.9" x2="118.5" y2="523.1"/>
<line x1="121.5" y1="523.3" x2="126.5" y2="523.5"/>
<line x1="129.5" y1="523.7" x2="134.5" y2="523.9"/>
<line x1="137.5" y1="523.9" x2="142.5" y2="524.1"/>
<line x1="145.5" y1="524.3" x2="150.5" y2="524.5"/>
<line x1="153.5" y1="524.7" x2="158.5" y2="524.9"/>
<line x1="161.5" y1="525.0" x2="166.5" y2="525.0"/>
<line x1="169.5" y1="525.0" x2="174.5" y2="525.0"/>
<line x1="177.5" y1="525.1" x2="182.5" y2="525.3"/>
<line x1="185.5" y1="525.3" x2="190.5" y2="525.5"/>
<line x1="193.5" y1="525.7" x2="198.5" y2="525.9"/>
<line x1="201.5" y1="526.2" x2="206.5" y2="526.4"/>
<line x1="209.5" y1="526.4" x2="214.5" y2="526.4"/>
<line x1="217.5" y1="526.3" x2="222.5" y2="526.3"/>
<line x1="225.5" y1="526.3" x2="230.5" y2="526.3"/>
<line x1="233.5" y1="526.4" x2="238.5" y2="526.2"/>
<line x1="241.5" y1="525.9" x2="246.5" y2="525.3"/>
<line x1="249.5" y1="525.1" x2="254.5" y2="524.1"/>
<line x1="257.5" y1="522.8" x2="262.5" y2="521.6"/>
<line x1="265.5" y1="521.4" x2="270.5" y2="520.2"/>
<line x1="273.5" y1="519.3" x2="278.5" y2="517.9"/>
<line x1="281.5" y1="516.9" x2="286.5" y2="515.5"/>
<line x1="289.5" y1="514.8" x2="294.5" y2="513.6"/>
<line x1="297.5" y1="513.0" x2="302.5" y2="512.0"/>
<line x1="305.5" y1="511.6" x2="310.5" y2="511.0"/>
<line x1="313.5" y1="510.9" x2="318.5" y2="510.3"/>
<line x1="321.5" y1="509.6" x2="326.5" y2="509.2"/>
<line x1="329.5" y1="509.4" x2="334.5" y2="509.4"/>
<line x1="337.5" y1="509.3" x2="342.5" y2="509.5"/>
<line x1="345.5" y1="509.8" x2="350.5" y2="510.4"/>
<line x1="353.5" y1="510.8" x2="358.5" y2="511.8"/>
<line x1="361.5" y1="512.9" x2="366.5" y2="514.1"/>
<line x1="369.5" y1="514.3" x2="374.5" y2="515.5"/>
<line x1="377.5" y1="516.8" x2="382.5" y2="518.0"/>
<line x1="385.5" y1="518.4" x2="390.5" y2="519.6"/>
<line x1="393.5" y1="520.3" x2="398.5" y2="521.7"/>
<line x1="401.5" y1="522.7" x2="406.5" y2="524.1"/>
<line x1="409.5" y1="525.0" x2="414.5" y2="526.2"/>
<line x1="417.5" y1="527.0" x2="422.5" y2="528.0"/>
<line x1="425.5" y1="528.4" x2="430.5" y2="529.0"/>
<line x1="433.5" y1="529.2" x2="438.5" y2="529.8"/>
<line x1="441.5" y1="530.3" x2="446.5" y2="530.5"/>
<line x1="449.5" y1="530.5" x2="454.5" y2="530.3"/>
<line x1="457.5" y1="530.1" x2="462.5" y2="529.9"/>
<line x1="465.5" y1="529.6" x2="470.5" y2="529.4"/>
<line x1="473.5" y1="529.5" x2="478.5" y2="529.5"/>
<line x1="481.5" y1="529.2" x2="486.5" y2="529.2"/>
<line x1="489.5" y1="529.3" x2="494.5" y2="529.1"/>
<line x1="497.5" y1="528.8" x2="502.5" y2="528.6"/>
<line x1="505.5" y1="528.4" x2="510.5" y2="528.2"/>
<line x1="513.5" y1="528.3" x2="518.5" y2="527.7"/>
<line x1="521.5" y1="526.7" x2="526.5" y2="525.9"/>
<line x1="529.5" y1="526.1" x2="534.5" y2="525.1"/>
<line x1="537.5" y1="523.8" x2="542.5" y2="522.6"/>
<line x1="545.5" y1="522.1" x2="550.5" y2="520.9"/>
<line x1="553.5" y1="520.1" x2="558.5" y2="518.9"/>
<line x1="561.5" y1="518.0" x2="566.5" y2="516.8"/>
<line x1="569.5" y1="516.0" x2="574.5" y2="514.8"/>
<line x1="577.5" y1="514.0" x2="582.5" y2="513.0"/>
<line x1="585.5" y1="512.8" x2="590.5" y2="512.2"/>
<line x1="593.5" y1="512.0" x2="598.5" y2="511.6"/>
<line x1="601.5" y1="511.4" x2="606.5" y2="511.2"/>
<line x1="609.5" y1="511.1" x2="614.5" y2="511.5"/>
<line x1="617.5" y1="511.8" x2="622.5" y2="512.8"/>
<line x1="625.5" y1="513.8" x2="630.5" y2="514.6"/>
<line x1="633.5" y1="514.6" x2="638.5" y2="515.2"/>
<line x1="641.5" y1="515.6" x2="646.5" y2="516.2"/>
<line x1="649.5" y1="516.2" x2="654.5" y2="517.0"/>
<line x1="657.5" y1="518.1" x2="662.5" y2="519.1"/>
<line x1="665.5" y1="519.1" x2="670.5" y2="519.9"/>
<line x1="673.5" y1="520.4" x2="678.5" y2="521.6"/>
<line x1="681.5" y1="522.7" x2="686.5" y2="523.7"/>
<line x1="689.5" y1="524.0" x2="694.5" y2="524.8"/>
<line x1="697.5" y1="525.3" x2="702.5" y2="525.9"/>
<line x1="705.5" y1="526.1" x2="710.5" y2="526.5"/>
<line x1="713.5" y1="526.7" x2="718.5" y2="527.3"/>
<line x1="721.5" y1="527.7" x2="726.5" y2="528.3"/>
<line x1="729.5" y1="528.1" x2="734.5" y2="529.3"/>
<line x1="737.5" y1="530.9" x2="742.5" y2="532.3"/>
<line x1="745.5" y1="532.8" x2="750.5" y2="533.4"/>
<line x1="753.5" y1="533.4" x2="758.5" y2="533.8"/>
<line x1="761.5" y1="534.0" x2="766.5" y2="534.6"/>
<line x1="769.5" y1="535.1" x2="774.5" y2="535.5"/>
<line x1="777.5" y1="535.3" x2="782.5" y2="535.3"/>
<line x1="785.5" y1="535.3" x2="790.5" y2="535.3"/>
<line x1="793.5" y1="535.3" x2="798.5" y2="535.3"/>
<line x1="801.5" y1="535.5" x2="806.5" y2="535.1"/>
<line x1="809.5" y1="534.8" x2="814.5" y2="533.8"/>
<line x1="817.5" y1="533.0" x2="822.5" y2="531.8"/>
<line x1="825.5" y1="531.2" x2="830.5" y2="529.6"/>
<line x1="833.5" y1="528.4" x2="838.5" y2="526.6"/>
<line x1="841.5" y1="525.4" x2="846.5" y2="523.8"/>
<line x1="849.5" y1="523.0" x2="854.5" y2="521.5"/>
<line x1="857.5" y1="520.5" x2="862.5" y2="519.0"/>
<line x1="865.5" y1="518.2" x2="870.5" y2="516.6"/>
<line x1="873.5" y1="515.5" x2="878.5" y2="514.3"/>
<line x1="881.5" y1="513.9" x2="886.5" y2="513.1"/>
<line x1="889.5" y1="512.8" x2="894.5" y2="512.2"/>
<line x1="897.5" y1="511.9" x2="902.5" y2="511.7"/>
<line x1="905.5" y1="511.8" x2="910.5" y2="511.8"/>
<line x1="913.5" y1="511.8" x2="918.5" y2="511.8"/>
<line x1="921.5" y1="511.9" x2="926.5" y2="511.7"/>
<line x1="929.5" y1="511.4" x2="934.5" y2="511.2"/>
<line x1="937.5" y1="511.4" x2="942.5" y2="511.2"/>
<line x1="945.5" y1="510.7" x2="950.5" y2="510.5"/>
<line x1="953.5" y1="510.6" x2="958.5" y2="510.6"/>
<line x1="961.5" y1="510.6" x2="966.5" y2="510.6"/>
<line x1="969.5" y1="510.6" x2="974.5" y2="510.6"/>
<line x1="977.5" y1="510.5" x2="982.5" y2="510.7"/>
<line x1="985.5" y1="510.8" x2="990.5" y2="511.8"/>
<line x1="993.5" y1="512.9" x2="998.5" y2="514.1"/>
<line x1="1001.5" y1="514.5" x2="1006.5" y2="516.3"/>
<line x1="1009.5" y1="518.1" x2="1014.5" y2="519.9"/>
<line x1="1017.5" y1="520.3" x2="1022.5" y2="521.7"/>
<line x1="1025.5" y1="522.6" x2="1030.5" y2="523.8"/>
<line x1="1033.5" y1="524.2" x2="1038.5" y2="525.0"/>
<line x1="1041.5" y1="525.4" x2="1046.5" y2="525.6"/>
<line x1="1049.5" y1="525.5" x2="1054.5" y2="525.5"/>
<line x1="1057.5" y1="525.6" x2="1062.5" y2="525.4"/>
<line x1="1065.5" y1="525.2" x2="1070.5" y2="524.6"/>
<line x1="1073.5" y1="524.0" x2="1078.5" y2="523.0"/>
<line x1="1081.5" y1="522.1" x2="1086.5" y2="520.7"/>
<line x1="1089.5" y1="519.7" x2="1094.5" y2="517.9"/>
<line x1="1097.5" y1="516.5" x2="1102.5" y2="514.3"/>
<line x1="1105.5" y1="513.1" x2="1110.5" y2="510.7"/>
<line x1="1113.5" y1="509.0" x2="1118.5" y2="506.0"/>
<line x1="1121.5" y1="504.2" x2="1126.5" y2="500.4"/>
<line x1="1129.5" y1="497.5" x2="1134.5" y2="493.1"/>
<line x1="1137.5" y1="490.7" x2="1142.5" y2="486.1"/>
<line x1="1145.5" y1="482.8" x2="1150.5" y2="478.2"/>
<line x1="1153.5" y1="475.7" x2="1158.5" y2="471.3"/>
<line x1="1161.5" y1="468.5" x2="1166.5" y2="464.7"/>
<line x1="1169.5" y1="462.2" x2="1174.5" y2="460.6"/>
</g>
<path d="M4 598.5h1M5 597.5h3M8 596.5h2M10 595.5h3M13 596.5h2M15 597.5h1M16 598.5h2M18 599.5h1M19 600.5h3M22 599.5h6M28 598.5h3M31 597.5h3M34 596.5h5M39 595.5h11M50 596.5h2M52 597.5h2M54 598.5h1M55 599.5h2M57 600.5h1M58 601.5h2M60 602.5h8M68 601.5h2M70 600.5h2M72 599.5h2M74 598.5h11M85 597.5h2M87 596.5h3M90 595.5h3M93 596.5h2M95 597.5h1M96 598.5h2M98 599.5h1M99 600.5h2M101 601.5h1M102 602.5h2M104 603.5h1M105 604.5h1M106 605.5h2M108 606.5h1M109 605.5h2M111 604.5h1M112 603.5h2M114 602.5h3M117 601.5h2M119 600.5h3M122 599.5h5M127 600.5h4M131 601.5h2M133 600.5h4M137 599.5h6M143 600.5h4M147 601.5h1M148 600.5h1M149 599.5h1M150 598.5h1M151 597.5h1M152 596.5h1M153 595.5h1M154 594.5h1M155 593.5h1M156 594.5h1M157.5 595v2M158.5 597v2M159.5 599v2M160.5 601v2M161.5 603v2M162.5 605v2M163 607.5h1M164 608.5h1M165 607.5h1M166 606.5h1M167 605.5h1M168 604.5h1M169 603.5h1M170 602.5h1M171 601.5h2M173 602.5h2M175 603.5h2M177 604.5h2M179 605.5h12M191 606.5h3M194 607.5h3M197 608.5h2M199 609.5h2M201 610.5h4M205.5 608v2M206 607.5h1M207.5 605v2M208 604.5h1M209.5 602v2M210 601.5h1M211.5 599v2M212 598.5h1M213 597.5h1M214 596.5h1M215 595.5h1M216 594.5h1M217 593.5h1M218 592.5h1M219 591.5h5M224 590.5h5M229 589.5h3M232 588.5h2M234 587.5h2M236 586.5h2M238 585.5h2M240 584.5h2M242 583.5h2M244 582.5h3M247 581.5h3M250 580.5h3M253 579.5h2M255 578.5h3M258 577.5h3M261 578.5h2M263 579.5h3M266 580.5h2M268 581.5h2M270 582.5h1M271 583.5h2M273 584.5h2M275 585.5h4M279 584.5h6M285 583.5h2M287 582.5h3M290 581.5h4M294 582.5h3M297 583.5h2M299 584.5h3M302 585.5h2M304 586.5h1M305 587.5h2M307 588.5h3M310 587.5h7M317 588.5h2M319 589.5h2M321 590.5h1M322 591.5h2M324 592.5h1M325 591.5h5M330 590.5h3M333 591.5h1M334 592.5h2M336 593.5h1M337 594.5h1M338 595.5h2M340 596.5h1M341 597.5h1M342 598.5h2M344 599.5h1M345 600.5h1M346 601.5h1M347 602.5h1M348 603.5h1M349.5 604v2M350 606.5h1M351.5 607v2M352.5 609v2M353 611.5h1M354.5 612v2M355 614.5h1M356 615.5h2M358 616.5h2M360 617.5h3M363 618.5h1M364 617.5h1M365 616.5h1M366 615.5h1M367 614.5h1M368 613.5h1M369 612.5h1M370 611.5h1M371 610.5h1M372 609.5h5M377 608.5h8M385 609.5h5M390 610.5h5M395 611.5h3M398 612.5h2M400 613.5h2M402 614.5h4M406 613.5h2M408 612.5h1M409 611.5h2M411 610.5h1M412 609.5h1M413 608.5h1M414 607.5h1M415 606.5h1M416 605.5h1M417 604.5h1M418 603.5h1M419 602.5h11M430 603.5h2M432 604.5h3M435 605.5h2M437 604.5h4M441 603.5h3M444 602.5h2M446 601.5h3M449 600.5h2M451 599.5h1M452 598.5h1M453 597.5h2M455 596.5h1M456 595.5h1M457 594.5h1M458 593.5h1M459 592.5h1M460 593.5h1M461.5 594v2M462.5 596v2M463.5 598v2M464.5 600v2M465.5 602v2M466.5 604v2M467 606.5h1M468 607.5h5M473 608.5h4M477 609.5h3M480 610.5h3M483 611.5h2M485 610.5h3M488 609.5h3M491 608.5h2M493.5 606v2M494 605.5h1M495 604.5h1M496 603.5h1M497 602.5h1M498 601.5h1M499.5 599v2M500 599.5h1M501 598.5h1M502 597.5h2M504 596.5h2M506 595.5h2M508 594.5h1M509 593.5h1M510.5 591v2M511 590.5h1M512 589.5h1M513.5 587v2M514 586.5h1M515 585.5h1M516 584.5h4M520 583.5h7M527 582.5h8M535 581.5h7M542 580.5h6M548.5 581v2M549.5 583v2M550.5 585v3M551.5 588v2M552.5 590v2M553.5 592v3M554.5 595v2M555 597.5h1M556 598.5h2M558 597.5h2M560 596.5h2M562 595.5h2M564 594.5h1M565 593.5h2M567 592.5h1M568 591.5h1M569 590.5h1M570 589.5h1M571 588.5h18M589 589.5h1M590 590.5h1M591 591.5h1M592 592.5h1M593 593.5h1M594 594.5h1M595.5 595v2M596 597.5h1M597 598.5h1M598 599.5h1M599 600.5h1M600.5 601v2M601 603.5h1M602 604.5h1M603 605.5h1M604 606.5h1M605 607.5h2M607 608.5h1M608 609.5h2M610 610.5h2M612 611.5h1M613 610.5h4M617 609.5h4M621 608.5h5M626 607.5h3M629 608.5h3M632 609.5h3M635 610.5h1M636 609.5h1M637 608.5h1M638 607.5h1M639 606.5h1M640.5 604v2M641 603.5h1M642 602.5h1M643 601.5h1M644 600.5h4M648 599.5h4M652 598.5h2M654 597.5h1M655 596.5h1M656 595.5h2M658 594.5h1M659 593.5h1M660.5 594v2M661.5 596v3M662.5 599v3M663.5 602v3M664.5 605v3M665.5 608v3M666.5 611v3M667.5 614v2M668 616.5h2M670 615.5h6M676 614.5h1M677 613.5h1M678 612.5h1M679 611.5h1M680 610.5h1M681 609.5h1M682 608.5h1M683 607.5h1M684 606.5h4M688 605.5h7M695 606.5h5M700 607.5h2M702 608.5h3M705 609.5h2M707 610.5h19M726 611.5h2M728 612.5h3M731 613.5h4M735 614.5h5M740 615.5h1M741 616.5h2M743 617.5h2M745 618.5h1M746 619.5h3M749 618.5h1M750 617.5h1M751 616.5h1M752 615.5h1M753 614.5h1M754.5 612v2M755 611.5h1M756 610.5h1M757 609.5h1M758 608.5h1M759 607.5h1M760 606.5h1M761 605.5h1M762 604.5h1M763 603.5h2M765 602.5h3M768 601.5h3M771 600.5h3M774 599.5h2M776 598.5h2M778 597.5h3M781.5 598v2M782 600.5h1M783 601.5h1M784 602.5h1M785 603.5h1M786 604.5h1M787 605.5h1M788 606.5h3M791 607.5h4M795 608.5h1M796 607.5h2M798 606.5h1M799 605.5h1M800 604.5h2M802 603.5h1M803 602.5h2M805 601.5h2M807 600.5h1M808 599.5h2M810 598.5h2M812 597.5h1M813 596.5h2M815 595.5h1M816 594.5h1M817 593.5h1M818 592.5h1M819 591.5h2M821 590.5h3M824 589.5h2M826 588.5h3M829 589.5h2M831 590.5h3M834 591.5h3M837 590.5h2M839 589.5h1M840 588.5h1M841 587.5h1M842 586.5h1M843 585.5h2M845.5 586v2M846 588.5h1M847 589.5h1M848 590.5h1M849 591.5h1M850 592.5h1M851 593.5h1M852 594.5h2M854 595.5h2M856 596.5h2M858 597.5h2M860 598.5h6M866 599.5h11M877 598.5h3M880 597.5h2M882 596.5h3M885 597.5h2M887 598.5h1M888 599.5h2M890 600.5h2M892 601.5h1M893 600.5h4M897 599.5h13M910 598.5h6M916 597.5h1M917 596.5h2M919 595.5h1M920 594.5h2M922 593.5h1M923 592.5h1M924 591.5h2M926 590.5h1M927 589.5h1M928 588.5h2M930 587.5h1M931 586.5h1M932 585.5h2M934 584.5h1M935 583.5h1M936 582.5h2M938 581.5h1M939 580.5h1M940.5 581v2M941.5 583v2M942.5 585v2M943.5 587v2M944.5 589v2M945.5 591v2M946.5 593v2M947 595.5h1M948.5 596v2M949.5 598v2M950.5 600v2M951.5 602v2M952 604.5h1M953.5 605v2M954.5 607v2M955 609.5h1M956 610.5h2M958 609.5h6M964 608.5h1M965 607.5h2M967 606.5h1M968 605.5h1M969 604.5h1M970 603.5h1M971 602.5h3M974 603.5h2M976 604.5h3M979 605.5h2M981 606.5h1M982 607.5h1M983 608.5h1M984 609.5h1M985 610.5h2M987 611.5h1M988 612.5h2M990 613.5h2M992 614.5h1M993 615.5h2M995 616.5h2M997 615.5h2M999 614.5h1M1000 613.5h2M1002 612.5h7M1009 613.5h3M1012 612.5h1M1013.5 610v2M1014.5 608v2M1015.5 606v2M1016.5 604v2M1017.5 602v2M1018.5 600v2M1019.5 598v2M1020 597.5h9M1029 598.5h2M1031 599.5h1M1032 600.5h2M1034 601.5h1M1035 602.5h3M1038 601.5h3M1041 600.5h6M1047 601.5h3M1050 602.5h6M1056 603.5h8M1064 602.5h5M1069 601.5h3M1072 600.5h2M1074 599.5h2M1076 598.5h1M1077 597.5h2M1079 596.5h1M1080 595.5h1M1081 594.5h1M1082 593.5h1M1083 592.5h1M1084 591.5h2M1086 590.5h1M1087 589.5h1M1088 588.5h2M1090 587.5h1M1091 586.5h1M1092 585.5h2M1094 584.5h1M1095 583.5h1M1096 582.5h2M1098 581.5h1M1099 580.5h4M1103 581.5h3M1106 582.5h4M1110 581.5h3M1113 580.5h4M1117 579.5h2M1119 578.5h2M1121 577.5h2M1123 576.5h2M1125 575.5h3M1128 574.5h2M1130 573.5h11M1141 574.5h1M1142 575.5h1M1143 576.5h1M1144 577.5h1M1145 578.5h1M1146 579.5h1M1147 580.5h1M1148 581.5h1M1149 580.5h1M1150 579.5h1M1151 578.5h2M1153 577.5h1M1154 576.5h1M1155 575.5h17" stroke="#1e90ff" stroke-width="1" fill="none" shape-rendering="crispEdges"/>
<text x="1197.3" y="66.9" font-size="9.3" fill="#000" stroke="#000" stroke-width="0.18" textLength="32.3" lengthAdjust="spacingAndGlyphs">112.415</text>
<text x="1197.3" y="99.9" font-size="9.3" fill="#000" stroke="#000" stroke-width="0.18" textLength="32.3" lengthAdjust="spacingAndGlyphs">110.140</text>
<text x="1197.3" y="132.9" font-size="9.3" fill="#000" stroke="#000" stroke-width="0.18" textLength="32.3" lengthAdjust="spacingAndGlyphs">107.865</text>
<text x="1197.3" y="165.9" font-size="9.3" fill="#000" stroke="#000" stroke-width="0.18" textLength="32.3" lengthAdjust="spacingAndGlyphs">105.525</text>
<text x="1197.3" y="198.9" font-size="9.3" fill="#000" stroke="#000" stroke-width="0.18" textLength="32.3" lengthAdjust="spacingAndGlyphs">103.250</text>
<text x="1197.3" y="231.9" font-size="9.3" fill="#000" stroke="#000" stroke-width="0.18" textLength="32.3" lengthAdjust="spacingAndGlyphs">100.975</text>
<text x="1196.1" y="264.9" font-size="9.3" fill="#000" stroke="#000" stroke-width="0.18" textLength="28.2" lengthAdjust="spacingAndGlyphs">98.635</text>
<text x="1196.1" y="297.9" font-size="9.3" fill="#000" stroke="#000" stroke-width="0.18" textLength="28.2" lengthAdjust="spacingAndGlyphs">96.360</text>
<text x="1196.1" y="330.9" font-size="9.3" fill="#000" stroke="#000" stroke-width="0.18" textLength="28.2" lengthAdjust="spacingAndGlyphs">94.085</text>
<text x="1196.1" y="363.9" font-size="9.3" fill="#000" stroke="#000" stroke-width="0.18" textLength="28.2" lengthAdjust="spacingAndGlyphs">91.745</text>
<text x="1196.1" y="396.9" font-size="9.3" fill="#000" stroke="#000" stroke-width="0.18" textLength="28.2" lengthAdjust="spacingAndGlyphs">89.470</text>
<text x="1196.1" y="429.9" font-size="9.3" fill="#000" stroke="#000" stroke-width="0.18" textLength="28.2" lengthAdjust="spacingAndGlyphs">87.195</text>
<rect x="1194" y="92" width="39" height="11" fill="#00cc00" shape-rendering="crispEdges"/>
<text x="1197.5" y="100.9" font-size="9.3" fill="#fff" stroke="#fff" stroke-width="0.18" textLength="32.3" lengthAdjust="spacingAndGlyphs">110.000</text>
<rect x="1194" y="128" width="39" height="11" fill="#4169e1" shape-rendering="crispEdges"/>
<text x="1197.5" y="136.9" font-size="9.3" fill="#fff" stroke="#fff" stroke-width="0.18" textLength="32.3" lengthAdjust="spacingAndGlyphs">107.500</text>
<rect x="1194" y="185" width="39" height="11" fill="#4169e1" shape-rendering="crispEdges"/>
<text x="1197.5" y="193.9" font-size="9.3" fill="#fff" stroke="#fff" stroke-width="0.18" textLength="32.3" lengthAdjust="spacingAndGlyphs">103.500</text>
<rect x="1194" y="26" width="39" height="11" fill="#000" shape-rendering="crispEdges"/>
<text x="1197.5" y="34.9" font-size="9.3" fill="#fff" stroke="#fff" stroke-width="0.18" textLength="32.3" lengthAdjust="spacingAndGlyphs">114.700</text>
<rect x="1192" y="31" width="2" height="1" fill="#000" shape-rendering="crispEdges"/>
<text x="1194.7" y="441.9" font-size="9.15" fill="#000" stroke="#000" stroke-width="0.18" textLength="27.8" lengthAdjust="spacingAndGlyphs">4.7328</text>
<text x="1194.4" y="534.5" font-size="9.15" fill="#000" stroke="#000" stroke-width="0.18" textLength="18.2" lengthAdjust="spacingAndGlyphs">0.00</text>
<text x="1194.4" y="541.9" font-size="9.15" fill="#000" stroke="#000" stroke-width="0.18" textLength="31.4" lengthAdjust="spacingAndGlyphs">-0.6413</text>
<text x="1194.4" y="557.6" font-size="9.15" fill="#000" stroke="#000" stroke-width="0.18" textLength="15" lengthAdjust="spacingAndGlyphs">100</text>
<text x="1193.2" y="586.8" font-size="9.15" fill="#000" stroke="#000" stroke-width="0.18" textLength="10.2" lengthAdjust="spacingAndGlyphs">70</text>
<text x="1193.2" y="633.9" font-size="9.15" fill="#000" stroke="#000" stroke-width="0.18" textLength="10.2" lengthAdjust="spacingAndGlyphs">30</text>
<text x="1194.3" y="662" font-size="9.15" fill="#000" stroke="#000" stroke-width="0.18" textLength="5.1" lengthAdjust="spacingAndGlyphs">0</text>
<path d="M7 11.3H14.2L10.6 15.1Z" fill="#000"/>
<text x="18.5" y="15.8" font-size="9.15" fill="#000" stroke="#000" stroke-width="0.18" textLength="43.6" lengthAdjust="spacingAndGlyphs">UKOil-,H4</text>
<text x="68.2" y="15.8" font-size="9.15" fill="#000" stroke="#000" stroke-width="0.18" textLength="139.8" lengthAdjust="spacingAndGlyphs">114.670 115.030 114.530 114.700</text>
<text x="7.3" y="443.6" font-size="9.15" fill="#000" stroke="#000" stroke-width="0.18" textLength="128.8" lengthAdjust="spacingAndGlyphs">MACD(12,26,9) 4.4885 3.4294</text>
<text x="7.2" y="559.8" font-size="9.15" fill="#000" stroke="#000" stroke-width="0.18" textLength="68.4" lengthAdjust="spacingAndGlyphs">RSI(14) 77.3849</text>
<text x="2.4" y="677.7" font-size="9.2" fill="#000" stroke="#000" stroke-width="0.18">28 Jan 2022</text>
<text x="66.4" y="677.7" font-size="9.2" fill="#000" stroke="#000" stroke-width="0.18">31 Jan 12:00</text>
<text x="130.4" y="677.7" font-size="9.2" fill="#000" stroke="#000" stroke-width="0.18">1 Feb 21:00</text>
<text x="194.4" y="677.7" font-size="9.2" fill="#000" stroke="#000" stroke-width="0.18">3 Feb 05:00</text>
<text x="258.4" y="677.7" font-size="9.2" fill="#000" stroke="#000" stroke-width="0.18">4 Feb 13:00</text>
<text x="322.4" y="677.7" font-size="9.2" fill="#000" stroke="#000" stroke-width="0.18">7 Feb 16:00</text>
<text x="386.4" y="677.7" font-size="9.2" fill="#000" stroke="#000" stroke-width="0.18">9 Feb 01:00</text>
<text x="450.4" y="677.7" font-size="9.2" fill="#000" stroke="#000" stroke-width="0.18">10 Feb 09:00</text>
<text x="514.4" y="677.7" font-size="9.2" fill="#000" stroke="#000" stroke-width="0.18">11 Feb 17:00</text>
<text x="578.4" y="677.7" font-size="9.2" fill="#000" stroke="#000" stroke-width="0.18">14 Feb 20:00</text>
<text x="642.4" y="677.7" font-size="9.2" fill="#000" stroke="#000" stroke-width="0.18">16 Feb 05:00</text>
<text x="706.4" y="677.7" font-size="9.2" fill="#000" stroke="#000" stroke-width="0.18">17 Feb 13:00</text>
<text x="770.4" y="677.7" font-size="9.2" fill="#000" stroke="#000" stroke-width="0.18">18 Feb 21:00</text>
<text x="834.4" y="677.7" font-size="9.2" fill="#000" stroke="#000" stroke-width="0.18">22 Feb 01:00</text>
<text x="898.4" y="677.7" font-size="9.2" fill="#000" stroke="#000" stroke-width="0.18">23 Feb 09:00</text>
<text x="962.4" y="677.7" font-size="9.2" fill="#000" stroke="#000" stroke-width="0.18">24 Feb 21:00</text>
<text x="1026.4" y="677.7" font-size="9.2" fill="#000" stroke="#000" stroke-width="0.18">28 Feb 00:00</text>
<text x="1090.4" y="677.7" font-size="9.2" fill="#000" stroke="#000" stroke-width="0.18">1 Mar 09:00</text>
<text x="1154.4" y="677.7" font-size="9.2" fill="#000" stroke="#000" stroke-width="0.18">2 Mar 17:00</text>
<g fill="#ff0000"><title>多空转折点110</title>
<text x="175.3" y="249.2" font-size="34.6" fill="#ff0000" font-family="'Liberation Sans', 'Noto Sans CJK SC', sans-serif" textLength="175" lengthAdjust="spacingAndGlyphs">多空转折点</text>
<text x="349.2" y="249" font-size="35" fill="#ff0000" font-family="'Liberation Sans', 'Noto Sans CJK SC', sans-serif" textLength="49" lengthAdjust="spacingAndGlyphs">110</text>
</g>
</svg>
</body></html>
